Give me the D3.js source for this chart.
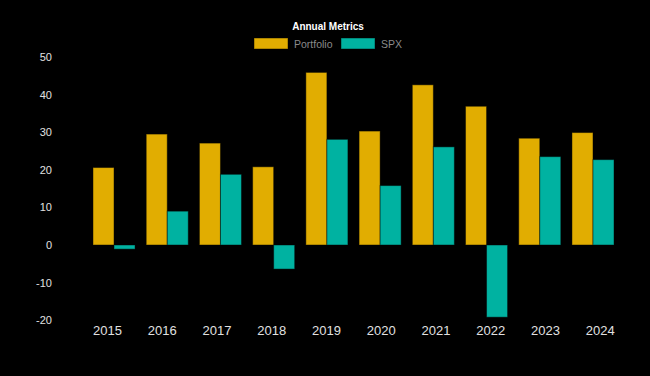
<!DOCTYPE html>
<html><head><meta charset="utf-8">
<script src="https://cdn.jsdelivr.net/npm/d3@7"></script>
<style>html,body{margin:0;padding:0;background:#000;}svg{display:block;}</style>
</head><body>
<script>
const years = ["2015","2016","2017","2018","2019","2020","2021","2022","2023","2024"];
const portfolio = [20.6, 29.5, 27.1, 20.8, 45.9, 30.3, 42.6, 36.9, 28.4, 29.9];
const spx = [-1.1, 9.0, 18.8, -6.4, 28.1, 15.8, 26.1, -19.2, 23.5, 22.7];
const seriesNames = ["Portfolio", "SPX"];
const colors = ["#E1AD01", "#00B2A1"];
const yTicks = [-20, -10, 0, 10, 20, 30, 40, 50];

const W = 650, H = 376;
const svg = d3.select("body").append("svg").attr("width", W).attr("height", H)
  .style("background", "#000").style("font-family", "Liberation Sans, Arial, sans-serif");

const y = d3.scaleLinear().domain([0, 50]).range([245, 57]);
const x0 = d3.scaleBand().domain(years).range([87.4, 619.6]).paddingInner(0.21).paddingOuter(0.105);
const x1 = d3.scaleBand().domain(seriesNames).range([0, x0.bandwidth()]);
const xLab = d3.scaleBand().domain(years).range([80.1, 627.7]);

const data = [portfolio, spx];
seriesNames.forEach((s, si) => {
  svg.append("g").selectAll("rect").data(years).join("rect")
    .attr("x", d => x0(d) + x1(s))
    .attr("width", x1.bandwidth())
    .attr("y", (d, i) => y(Math.max(0, data[si][i])))
    .attr("height", (d, i) => Math.abs(y(data[si][i]) - y(0)))
    .attr("fill", colors[si])
    .attr("stroke", "rgba(0,0,0,0.45)")
    .attr("stroke-width", 1);
});

// y axis
const yAxis = svg.append("g").attr("transform", "translate(52,0)")
  .call(d3.axisLeft(y).tickValues(yTicks).tickSize(0).tickPadding(0).tickFormat(d => String(d)));
yAxis.select(".domain").remove();
yAxis.selectAll("text").attr("fill", "#e0e0e0").style("font-size", "11px")
  .style("font-family", "Liberation Sans, Arial, sans-serif");

// x axis
const xAxis = svg.append("g").attr("transform", "translate(0,326)")
  .call(d3.axisBottom(xLab).tickSize(0).tickPadding(0));
xAxis.select(".domain").remove();
xAxis.selectAll("text").attr("fill", "#e0e0e0").style("font-size", "13px")
  .style("font-family", "Liberation Sans, Arial, sans-serif");

// title
svg.append("text").attr("x", 328).attr("y", 30).attr("text-anchor", "middle")
  .attr("fill", "#fff").style("font-size", "10px").style("font-weight", "bold")
  .text("Annual Metrics");

// legend
const legX = [254, 341];
seriesNames.forEach((s, i) => {
  svg.append("rect").attr("x", legX[i]).attr("y", 38).attr("width", 34).attr("height", 11)
    .attr("fill", colors[i]).attr("stroke", "rgba(0,0,0,0.45)");
  svg.append("text").attr("x", legX[i] + 40).attr("y", 47.5)
    .attr("fill", "#8a8a8a").style("font-size", "10.5px").text(s);
});
</script>
</body></html>
